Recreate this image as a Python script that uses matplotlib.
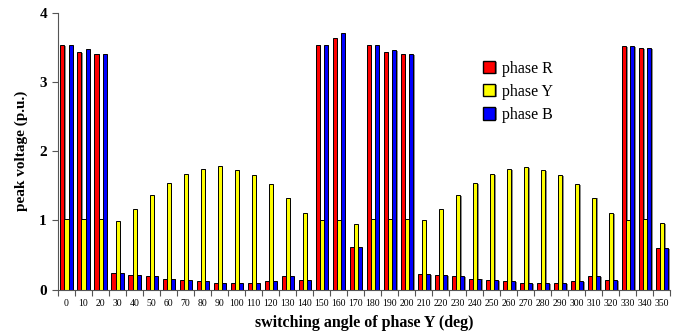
import numpy as np
import matplotlib.pyplot as plt
import matplotlib.patheffects as pe

plt.rcParams['font.family'] = ['Liberation Serif', 'DejaVu Serif']

# switching angle of phase Y (deg)
angles = list(range(0, 360, 10))

# peak voltages (p.u.) for each phase
phase_r = [3.53, 3.43, 3.41, 0.24, 0.21, 0.19, 0.16, 0.14, 0.12, 0.09, 0.09, 0.10,
           0.12, 0.19, 0.14, 3.54, 3.64, 0.61, 3.53, 3.44, 3.40, 0.23, 0.21, 0.19,
           0.16, 0.14, 0.12, 0.09, 0.09, 0.10, 0.12, 0.19, 0.14, 3.52, 3.49, 0.60]
phase_y = [1.02, 1.02, 1.02, 0.99, 1.16, 1.37, 1.54, 1.67, 1.75, 1.78, 1.73, 1.66,
           1.52, 1.33, 1.11, 1.01, 1.01, 0.95, 1.02, 1.02, 1.02, 1.00, 1.16, 1.37,
           1.54, 1.67, 1.74, 1.77, 1.73, 1.66, 1.52, 1.33, 1.11, 1.01, 1.02, 0.96]
phase_b = [3.53, 3.47, 3.40, 0.24, 0.21, 0.19, 0.16, 0.14, 0.12, 0.09, 0.09, 0.10,
           0.12, 0.19, 0.14, 3.54, 3.71, 0.61, 3.53, 3.46, 3.40, 0.23, 0.21, 0.19,
           0.16, 0.14, 0.12, 0.09, 0.09, 0.10, 0.12, 0.19, 0.14, 3.52, 3.49, 0.60]

fig = plt.figure(figsize=(6.8, 3.36), dpi=100)
ax = fig.add_axes([0.0853, 0.138, 0.9007, 0.824])

x = np.arange(len(angles))
w = 1 / 1.4 / 3
shadow = [pe.SimplePatchShadow(offset=(1.2, -0.6), shadow_rgbFace='#8c8c8c', alpha=1), pe.Normal()]

series = [(phase_r, '#ff0000', 'phase R'),
          (phase_y, '#ffff00', 'phase Y'),
          (phase_b, '#0000ff', 'phase B')]
for i, (vals, col, lab) in enumerate(series):
    bars = ax.bar(x + (i - 1) * w, vals, width=w, color=col, edgecolor='black',
                  linewidth=0.7, label=lab, zorder=2)
    for b in bars:
        b.set_path_effects(shadow)

ax.set_xlim(-0.5, len(angles) - 0.5)
ax.set_ylim(0, 4)

for s in ['top', 'right']:
    ax.spines[s].set_visible(False)
ax.spines['left'].set_color('#555555')
ax.spines['bottom'].set_color('#555555')

ax.set_yticks([0, 1, 2, 3, 4])
ax.set_yticklabels(['0', '1', '2', '3', '4'], fontsize=11, fontweight='bold')
ax.tick_params(axis='y', direction='out', length=4, width=0.8, color='#555555', pad=4)

ax.set_xticks(x)
ax.set_xticklabels([str(a) for a in angles], fontsize=7)
ax.tick_params(axis='x', which='major', length=0, pad=7)
ax.set_xticks(np.arange(-0.5, len(angles)), minor=True)
ax.tick_params(axis='x', which='minor', direction='out', length=4, width=0.8, color='#555555')

ax.set_ylabel('peak voltage (p.u.)', fontsize=11, fontweight='bold', labelpad=8)
ax.set_xlabel('switching angle of phase Y (deg)', fontsize=11.5, fontweight='bold', labelpad=5)

leg = ax.legend(loc='upper left', bbox_to_anchor=(0.683, 0.85), frameon=False,
                fontsize=11.5, handlelength=0.8, handleheight=0.8,
                handletextpad=0.4, labelspacing=0.45, borderaxespad=0)
for h in leg.legend_handles:
    h.set_linewidth(1.0)

fig.savefig('out.png', dpi=100)
